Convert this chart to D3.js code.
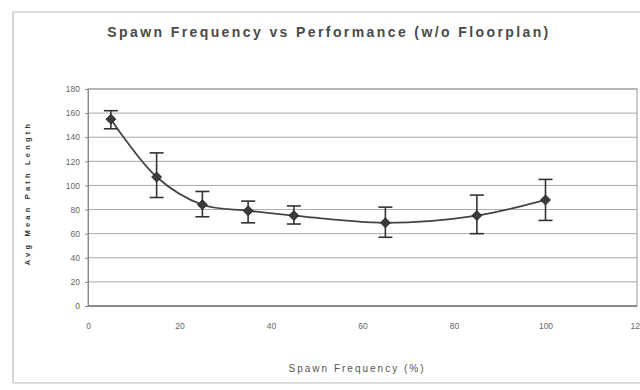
<!DOCTYPE html>
<html><head><meta charset="utf-8">
<script src="https://cdn.jsdelivr.net/npm/d3@7"></script>
<style>body{margin:0;background:#fff}svg{display:block}</style>
</head><body>
<svg id="c" width="640" height="390"></svg>
<script>
const spawnFreq = [5, 15, 25, 35, 45, 65, 85, 100];
const meanPath  = [155, 107, 84, 79, 75, 69, 75, 88];
const errLow    = [147, 90, 74, 69, 68, 57, 60, 71];
const errHigh   = [162, 127, 95, 87, 83, 82, 92, 105];
const xTicks = [0, 20, 40, 60, 80, 100, 120];
const yTicks = [0, 20, 40, 60, 80, 100, 120, 140, 160, 180];

const svg = d3.select("#c");
const L = 88, R = 637, T = 89, B = 306;
const x = d3.scaleLinear().domain([0, 120]).range([L, R]);
const y = d3.scaleLinear().domain([0, 180]).range([B, T]);
const font = "Liberation Sans, Arial, sans-serif";

// outer chart frame
svg.append("path").attr("d", `M13,383 L13,12 L640,12 M13,383 L640,383`)
  .attr("fill", "none").attr("stroke", "#bbb").attr("stroke-width", 1.2);

// title
svg.append("text").attr("x", 329).attr("y", 37).attr("text-anchor", "middle")
  .attr("font-family", font).attr("font-size", 14)
  .attr("font-weight", "bold").attr("fill", "#4a4a4a").attr("letter-spacing", 2.4)
  .text("Spawn Frequency vs Performance (w/o Floorplan)");

// gridlines
svg.append("g").selectAll("line").data(yTicks.filter(d => d > 0)).join("line")
  .attr("x1", L).attr("x2", R).attr("y1", d => y(d)).attr("y2", d => y(d))
  .attr("stroke", "#aaa").attr("stroke-width", 1);

// plot frame
svg.append("rect").attr("x", L).attr("y", T).attr("width", R - L).attr("height", B - T)
  .attr("fill", "none").attr("stroke", "#999").attr("stroke-width", 1);
svg.append("line").attr("x1", L).attr("x2", R).attr("y1", B).attr("y2", B)
  .attr("stroke", "#777").attr("stroke-width", 1.5);

// axes
const yAxis = svg.append("g").attr("transform", `translate(${L},0)`)
  .call(d3.axisLeft(y).tickValues(yTicks).tickSize(3).tickPadding(5));
yAxis.select(".domain").attr("stroke", "#888");
yAxis.selectAll(".tick line").attr("stroke", "#888");
yAxis.selectAll("text").attr("font-family", font)
  .attr("font-size", 8.5).attr("fill", "#666");

const xAxis = svg.append("g").attr("transform", `translate(0,${B})`)
  .call(d3.axisBottom(x).tickValues(xTicks).tickSize(0).tickPadding(17));
xAxis.select(".domain").remove();
xAxis.selectAll("text").attr("font-family", font)
  .attr("font-size", 8.5).attr("fill", "#666");

// axis titles
svg.append("text").attr("x", 357).attr("y", 372).attr("text-anchor", "middle")
  .attr("font-family", font).attr("font-size", 10)
  .attr("fill", "#555").attr("letter-spacing", 2)
  .text("Spawn Frequency (%)");
svg.append("text").attr("transform", "translate(30,193) rotate(-90)")
  .attr("text-anchor", "middle")
  .attr("font-family", font).attr("font-size", 7.5)
  .attr("font-weight", "bold").attr("fill", "#333").attr("letter-spacing", 3.2)
  .text("Avg Mean Path Length");

const data = spawnFreq.map((f, i) => ({f, v: meanPath[i], lo: errLow[i], hi: errHigh[i]}));

// smoothed line
svg.append("path").datum(data)
  .attr("d", d3.line().x(d => x(d.f)).y(d => y(d.v)).curve(d3.curveCatmullRom.alpha(0.5)))
  .attr("fill", "none").attr("stroke", "#444").attr("stroke-width", 1.8);

// error bars
const eb = svg.append("g").attr("stroke", "#333").attr("stroke-width", 1.6);
eb.selectAll(".v").data(data).join("line")
  .attr("x1", d => x(d.f)).attr("x2", d => x(d.f))
  .attr("y1", d => y(d.lo)).attr("y2", d => y(d.hi));
eb.selectAll(".h").data(data).join("line")
  .attr("x1", d => x(d.f) - 7).attr("x2", d => x(d.f) + 7)
  .attr("y1", d => y(d.hi)).attr("y2", d => y(d.hi));
eb.selectAll(".l").data(data).join("line")
  .attr("x1", d => x(d.f) - 7).attr("x2", d => x(d.f) + 7)
  .attr("y1", d => y(d.lo)).attr("y2", d => y(d.lo));

// diamond markers
svg.append("g").selectAll("path").data(data).join("path")
  .attr("transform", d => `translate(${x(d.f)},${y(d.v)}) rotate(45)`)
  .attr("d", d3.symbol(d3.symbolSquare, 50))
  .attr("fill", "#3a3a3a").attr("stroke", "#222").attr("stroke-width", 0.8);
</script>
</body></html>
